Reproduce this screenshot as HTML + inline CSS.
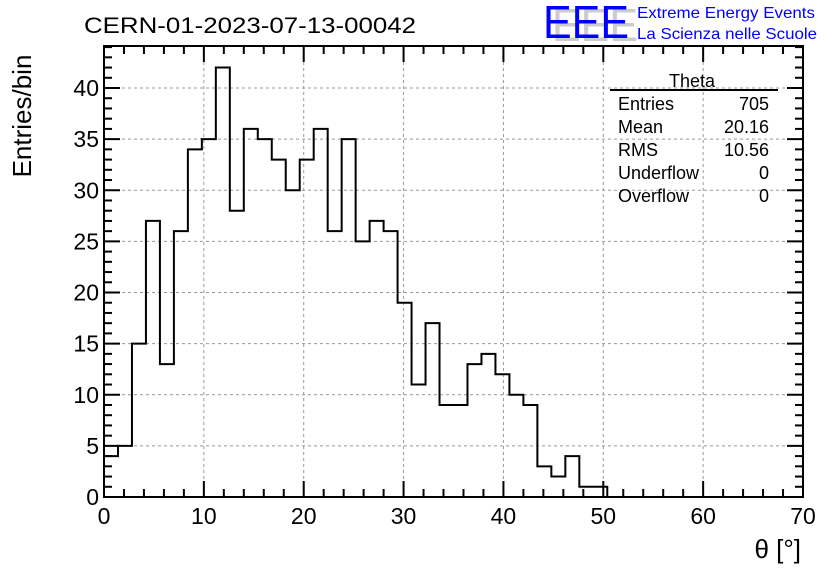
<!DOCTYPE html>
<html><head><meta charset="utf-8"><style>
body{margin:0;background:#fff}
svg{display:block;font-family:"Liberation Sans",sans-serif}
</style></head><body>
<svg id="c" width="836" height="572">
<text x="84" y="33" font-size="22" textLength="332" lengthAdjust="spacingAndGlyphs">CERN-01-2023-07-13-00042</text>
<g>
<text x="552" y="41" font-size="46" fill="#ccc" textLength="86" lengthAdjust="spacingAndGlyphs">EEE</text>
<text x="543" y="38" font-size="46" fill="#0000ff" textLength="86" lengthAdjust="spacingAndGlyphs">EEE</text>
<text x="637" y="18" font-size="16" fill="#0000ff" textLength="178" lengthAdjust="spacingAndGlyphs">Extreme Energy Events</text>
<text x="637" y="39" font-size="16" fill="#0000ff" textLength="180" lengthAdjust="spacingAndGlyphs">La Scienza nelle Scuole</text>
</g>
<text transform="translate(31,116) rotate(-90)" text-anchor="middle" font-size="26">Entries/bin</text>
<text x="801" y="558" text-anchor="end" font-size="26">θ [°]</text>
<g id="stats">
<line x1="610" y1="90" x2="778" y2="90" stroke="#000" stroke-width="2"/>
<text x="692" y="87" font-size="18" text-anchor="middle">Theta</text>
<text x="618" y="110" font-size="18">Entries</text><text x="769" y="110" font-size="18" text-anchor="end">705</text>
<text x="618" y="133" font-size="18">Mean</text><text x="769" y="133" font-size="18" text-anchor="end">20.16</text>
<text x="618" y="156" font-size="18">RMS</text><text x="769" y="156" font-size="18" text-anchor="end">10.56</text>
<text x="618" y="179" font-size="18">Underflow</text><text x="769" y="179" font-size="18" text-anchor="end">0</text>
<text x="618" y="202" font-size="18">Overflow</text><text x="769" y="202" font-size="18" text-anchor="end">0</text>
</g>
</svg>
<script>
const binWidth = 1.4;
const counts = [4,5,15,27,13,26,34,35,42,28,36,35,33,30,33,36,26,35,25,27,26,19,11,17,9,9,13,14,12,10,9,3,2,4,1,1,0,0,0,0,0,0,0,0,0,0,0,0,0,0];
const xTicks = [0,10,20,30,40,50,60,70];
const yTicks = [0,5,10,15,20,25,30,35,40];
const X0=104,X1=803,Y0=497,Y1=46;
const xs=v=>X0+(v-0)/70*(X1-X0);
const ys=v=>Y0-v*(Y0-88)/40;
const svg=document.getElementById('c');
const NS='http://www.w3.org/2000/svg';
function mk(t,a){const e=document.createElementNS(NS,t);for(const k in a)e.setAttribute(k,a[k]);svg.appendChild(e);return e;}
xTicks.forEach(v=>{if(v>0&&v<70){const g=mk('line',{x1:xs(v),x2:xs(v),y1:Y0,y2:Y1,stroke:'#999','stroke-dasharray':'3,3'});

}});
yTicks.forEach(v=>{if(v>0){const g=mk('line',{x1:X0,x2:X1,y1:ys(v),y2:ys(v),stroke:'#999','stroke-dasharray':'3,3'});

}});
let d='M'+xs(0)+','+Y0;
counts.forEach((c,i)=>{d+=' L'+xs(i*binWidth)+','+ys(c)+' L'+xs((i+1)*binWidth)+','+ys(c);});
d+=' L'+xs(counts.length*binWidth)+','+Y0;
const h=mk('path',{d:d,fill:'none',stroke:'#000','stroke-width':2});


const f=mk('rect',{x:X0,y:Y1,width:X1-X0,height:Y0-Y1,fill:'none',stroke:'#000','stroke-width':2});


for(let v=0;v<=70;v+=2){const L=(v%10===0)?16:8;
mk('line',{x1:xs(v),x2:xs(v),y1:Y0,y2:Y0-L,stroke:'#000','stroke-width':2});
mk('line',{x1:xs(v),x2:xs(v),y1:Y1,y2:Y1+L,stroke:'#000','stroke-width':2});}
for(let v=0;v<=44;v+=1){const y=ys(v);if(y<Y1)break;const L=(v%5===0)?16:8;
mk('line',{x1:X0,x2:X0+L,y1:y,y2:y,stroke:'#000','stroke-width':2});
mk('line',{x1:X1,x2:X1-L,y1:y,y2:y,stroke:'#000','stroke-width':2});}
xTicks.forEach(v=>{const t=mk('text',{x:xs(v),y:524,'font-size':23,'text-anchor':'middle'});t.textContent=v;

});
yTicks.forEach(v=>{const t=mk('text',{x:99,y:ys(v)+8,'font-size':23,'text-anchor':'end'});t.textContent=v;

});
svg.appendChild(document.getElementById('stats'));
</script>
</body></html>
